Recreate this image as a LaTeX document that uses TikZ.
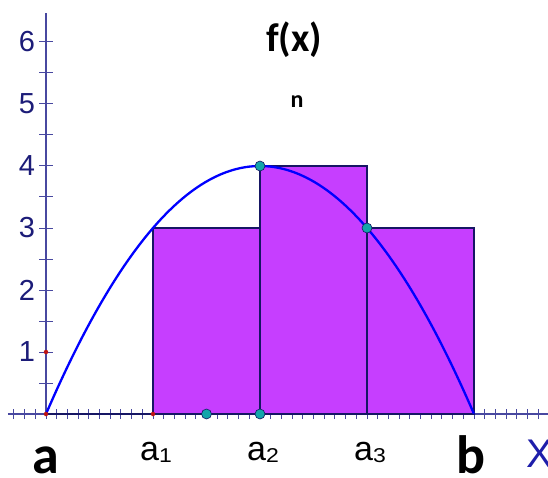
\documentclass[tikz,border=0pt]{standalone}
\usepackage{fontspec}
\newfontfamily\arial{Liberation Sans}
\newfontfamily\calib{Carlito}
\definecolor{axisc}{RGB}{72,72,160}
\definecolor{labc}{RGB}{28,28,120}
\definecolor{edgec}{RGB}{22,22,100}
\definecolor{fillc}{RGB}{198,62,255}
\definecolor{tealc}{RGB}{20,165,170}
\definecolor{redc}{RGB}{190,20,20}
\definecolor{xc}{RGB}{30,30,170}
\tikzset{
  axisline/.style={axisc, line width=1.3pt},
  tickline/.style={axisc, line width=1pt},
  ylab/.style={labc, font=\arial\fontsize{29}{29}\selectfont, inner sep=0pt},
  endlab/.style={black, font=\calib\bfseries\fontsize{54}{54}\selectfont, inner sep=0pt, anchor=base},
  sublab/.style={black, font=\arial\fontsize{34}{34}\selectfont, inner sep=0pt, anchor=base},
  rectbox/.style={fill=fillc, draw=edgec, line width=2pt},
  curve/.style={blue, line width=2.3pt},
  tealdot/.style={circle, fill=tealc, draw=edgec, line width=0.6pt, inner sep=0pt, minimum size=10pt},
  reddot/.style={circle, fill=redc, inner sep=0pt, minimum size=4.5pt},
}
\newcommand{\subd}[1]{\raisebox{-2pt}{\scalebox{1.15}[1]{\fontsize{20}{20}\selectfont #1}}}
\begin{document}
\begin{tikzpicture}
\useasboundingbox (-46pt,-63pt) rectangle (502pt,414pt);
% axes
\draw[axisline] (-38pt,0) -- (502pt,0);
\draw[axisline] (0,0) -- (0,401pt);
\foreach \i in {-3,...,46} \draw[tickline] (\i*10.7pt,-5pt) -- (\i*10.7pt,5pt);
\foreach \j in {1,...,12} \draw[tickline] (-6.5pt,\j*31pt) -- (6.5pt,\j*31pt);
\foreach \j in {1,...,6} \node[ylab] (y\j) at (-19pt,\j*62pt) {\j};
\begin{scope}[x=107pt,y=62pt]
% rectangles
\draw[rectbox] (1,0) rectangle (2,3);
\draw[rectbox] (2,0) rectangle (3,4);
\draw[rectbox] (3,0) rectangle (4,3);
\draw[edgec, line width=2.5pt] (0,0) -- (1,0);
% curve
\draw[curve] plot[domain=0:4, samples=100, smooth] (\x,{4-(\x-2)^2});
% points
\node[reddot] (p0) at (0,0) {};
\node[reddot] (p1) at (1,0) {};
\node[reddot] (p2) at (0,1) {};
\node[tealdot] (q1) at (2,4) {};
\node[tealdot] (q2) at (3,3) {};
\node[tealdot] (q3) at (2,0) {};
\node[tealdot] (q4) at (1.5,0) {};
\end{scope}
% labels
\node[endlab] (la) at (0pt,-59pt) {a};
\node[endlab] (lb) at (425pt,-59pt) {b};
\node[xc, font=\arial\fontsize{40}{40}\selectfont, inner sep=0pt, anchor=base] (lx) at (494pt,-53pt) {X};
\node[sublab] (l1) at (110pt,-46pt) {a\subd{1}};
\node[sublab] (l2) at (217pt,-46pt) {a\subd{2}};
\node[sublab] (l3) at (324pt,-46pt) {a\subd{3}};
\node[black, font=\calib\bfseries\fontsize{40}{40}\selectfont, inner sep=0pt, anchor=base] (fx) at (248pt,362pt) {f(x)};
\node[black, font=\calib\bfseries\fontsize{24}{24}\selectfont, inner sep=0pt, anchor=base] (nn) at (251pt,306pt) {n};
\end{tikzpicture}
\end{document}
